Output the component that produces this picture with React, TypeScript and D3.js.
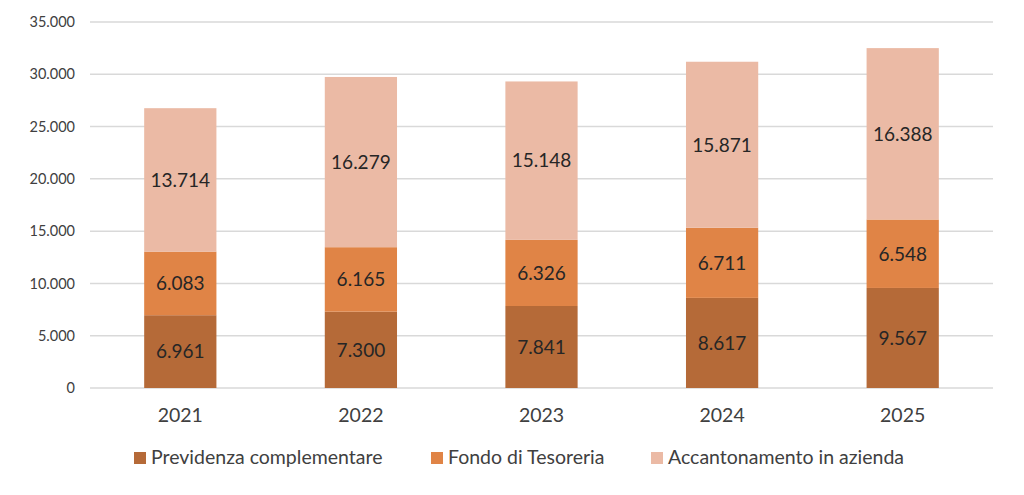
import React from "react";
import * as d3 from "d3";

const years = ["2021", "2022", "2023", "2024", "2025"];
const previdenza = [6961, 7300, 7841, 8617, 9567];
const tesoreria = [6083, 6165, 6326, 6711, 6548];
const azienda = [13714, 16279, 15148, 15871, 16388];
const seriesNames = ["Previdenza complementare", "Fondo di Tesoreria", "Accantonamento in azienda"];
const yTicks = [0, 5000, 10000, 15000, 20000, 25000, 30000, 35000];

const colors = ["#B56A38", "#E08446", "#EBBAA5"];
const FONT = "Lato, 'Open Sans', sans-serif";

const fmt = (v: number) => {
  if (v === 0) return "0";
  const s = Math.round(v).toString();
  return s.replace(/\B(?=(\d{3})+(?!\d))/g, ".");
};

export default function App() {
  const W = 1024, H = 495;
  const x = d3.scaleBand<string>().domain(years).range([90, 993]).paddingInner(0.6).paddingOuter(0.3);
  const y = d3.scaleLinear().domain([0, 35000]).range([388, 22]);

  const table = years.map((yr, i) => ({ year: yr, p: previdenza[i], t: tesoreria[i], a: azienda[i] }));
  const stack = d3.stack<any>().keys(["p", "t", "a"])(table);

  const legendX = [134, 431, 651];

  return (
    <svg width={W} height={H} style={{ position: "absolute", left: 0, top: 0, background: "#fff" }}>
      {yTicks.map((t) => (
        <g key={t}>
          <line x1={90} x2={993} y1={y(t)} y2={y(t)} stroke="#d9d9d9" strokeWidth={1.5} />
          <text x={75} y={y(t)} dy="0.35em" textAnchor="end" fontFamily={FONT} fontSize={14.5} fill="#404040">
            {fmt(t)}
          </text>
        </g>
      ))}
      {stack.map((layer, li) => (
        <g key={li}>
          {layer.map((d: any, i: number) => (
            <g key={i}>
              <rect
                x={x(years[i])!}
                width={x.bandwidth()}
                y={y(d[1])}
                height={y(d[0]) - y(d[1])}
                fill={colors[li]}
              />
              <text
                x={x(years[i])! + x.bandwidth() / 2}
                y={(y(d[0]) + y(d[1])) / 2}
                dy="0.36em"
                textAnchor="middle"
                fontFamily={FONT}
                fontSize={19}
                fill="#262626"
              >
                {fmt(d[1] - d[0])}
              </text>
            </g>
          ))}
        </g>
      ))}
      {years.map((yr) => (
        <text key={yr} x={x(yr)! + x.bandwidth() / 2} y={415} dy="0.35em" textAnchor="middle" fontFamily={FONT} fontSize={19.5} fill="#404040">
          {yr}
        </text>
      ))}
      {seriesNames.map((n, i) => (
        <g key={n}>
          <rect x={legendX[i]} y={452} width={12} height={12} fill={colors[i]} />
          <text x={legendX[i] + 17} y={457} dy="0.35em" fontFamily={FONT} fontSize={19.5} fill="#404040">
            {n}
          </text>
        </g>
      ))}
    </svg>
  );
}
